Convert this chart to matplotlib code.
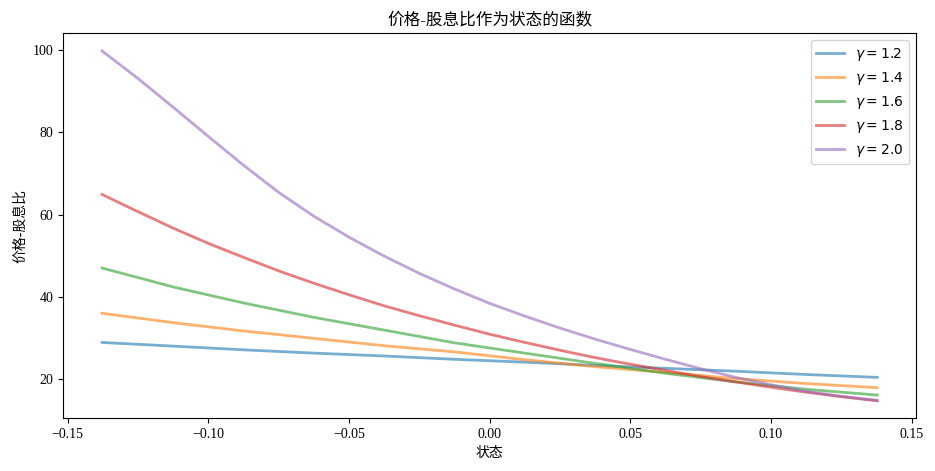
import matplotlib
matplotlib.use("Agg")
import matplotlib.pyplot as plt

plt.rcParams['font.family'] = ['Liberation Serif', 'Noto Sans CJK SC', 'DejaVu Sans']
plt.rcParams['axes.unicode_minus'] = True

# coarse state grid (flatter curves)
states = [-0.1378, -0.1125, -0.0875, -0.0625, -0.0375, -0.0125,
          0.0125, 0.0375, 0.0625, 0.0875, 0.1125, 0.1378]
# finer state grid (more curved series)
states_fine = [-0.1378, -0.125, -0.1125, -0.1, -0.0875, -0.075, -0.0625, -0.05,
               -0.0375, -0.025, -0.0125, 0.0, 0.0125, 0.025, 0.0375, 0.05,
               0.0625, 0.075, 0.0875, 0.1, 0.1125, 0.125, 0.1378]

gammas = [1.2, 1.4, 1.6, 1.8, 2.0]

pd_g12 = [28.9, 28.0, 27.1, 26.3, 25.6, 24.8, 24.1, 23.3, 22.6, 21.9, 21.1, 20.4]
pd_g14 = [36.0, 33.7, 31.7, 29.9, 28.1, 26.6, 24.7, 23.0, 21.6, 20.1, 18.9, 17.9]
pd_g16 = [47.0, 42.4, 38.5, 35.0, 31.9, 28.8, 26.3, 23.8, 21.4, 19.3, 17.5, 16.1]
pd_g18 = [64.9, 60.7, 56.7, 53.0, 49.6, 46.3, 43.3, 40.5, 37.8, 35.4, 33.1, 30.9,
          28.9, 27.0, 25.2, 23.6, 22.1, 20.6, 19.3, 18.0, 16.8, 15.7, 14.7]
pd_g20 = [99.8, 93.1, 86.1, 79.0, 72.0, 65.4, 59.6, 54.5, 49.9, 45.7, 41.9, 38.4,
          35.3, 32.4, 29.7, 27.2, 24.8, 22.5, 20.4, 18.6, 17.0, 15.8, 14.8]

series = [(states, pd_g12), (states, pd_g14), (states, pd_g16),
          (states_fine, pd_g18), (states_fine, pd_g20)]

fig = plt.figure(figsize=(9.35, 4.71), dpi=100)
ax = fig.add_axes([0.0677, 0.1119, 0.9797 - 0.0677, 0.9289 - 0.1119])

for g, (xs, vals) in zip(gammas, series):
    ax.plot(xs, vals, lw=2, alpha=0.6, label=rf'$\gamma = {g}$')

ax.set_title('价格-股息比作为状态的函数', fontsize=12)
ax.set_xlabel('状态', fontsize=10)
ax.set_ylabel('价格-股息比', fontsize=10)
ax.tick_params(labelsize=10)
ax.legend(loc='upper right', prop={'family': 'DejaVu Sans', 'size': 10})

fig.savefig('out.png', dpi=100)
